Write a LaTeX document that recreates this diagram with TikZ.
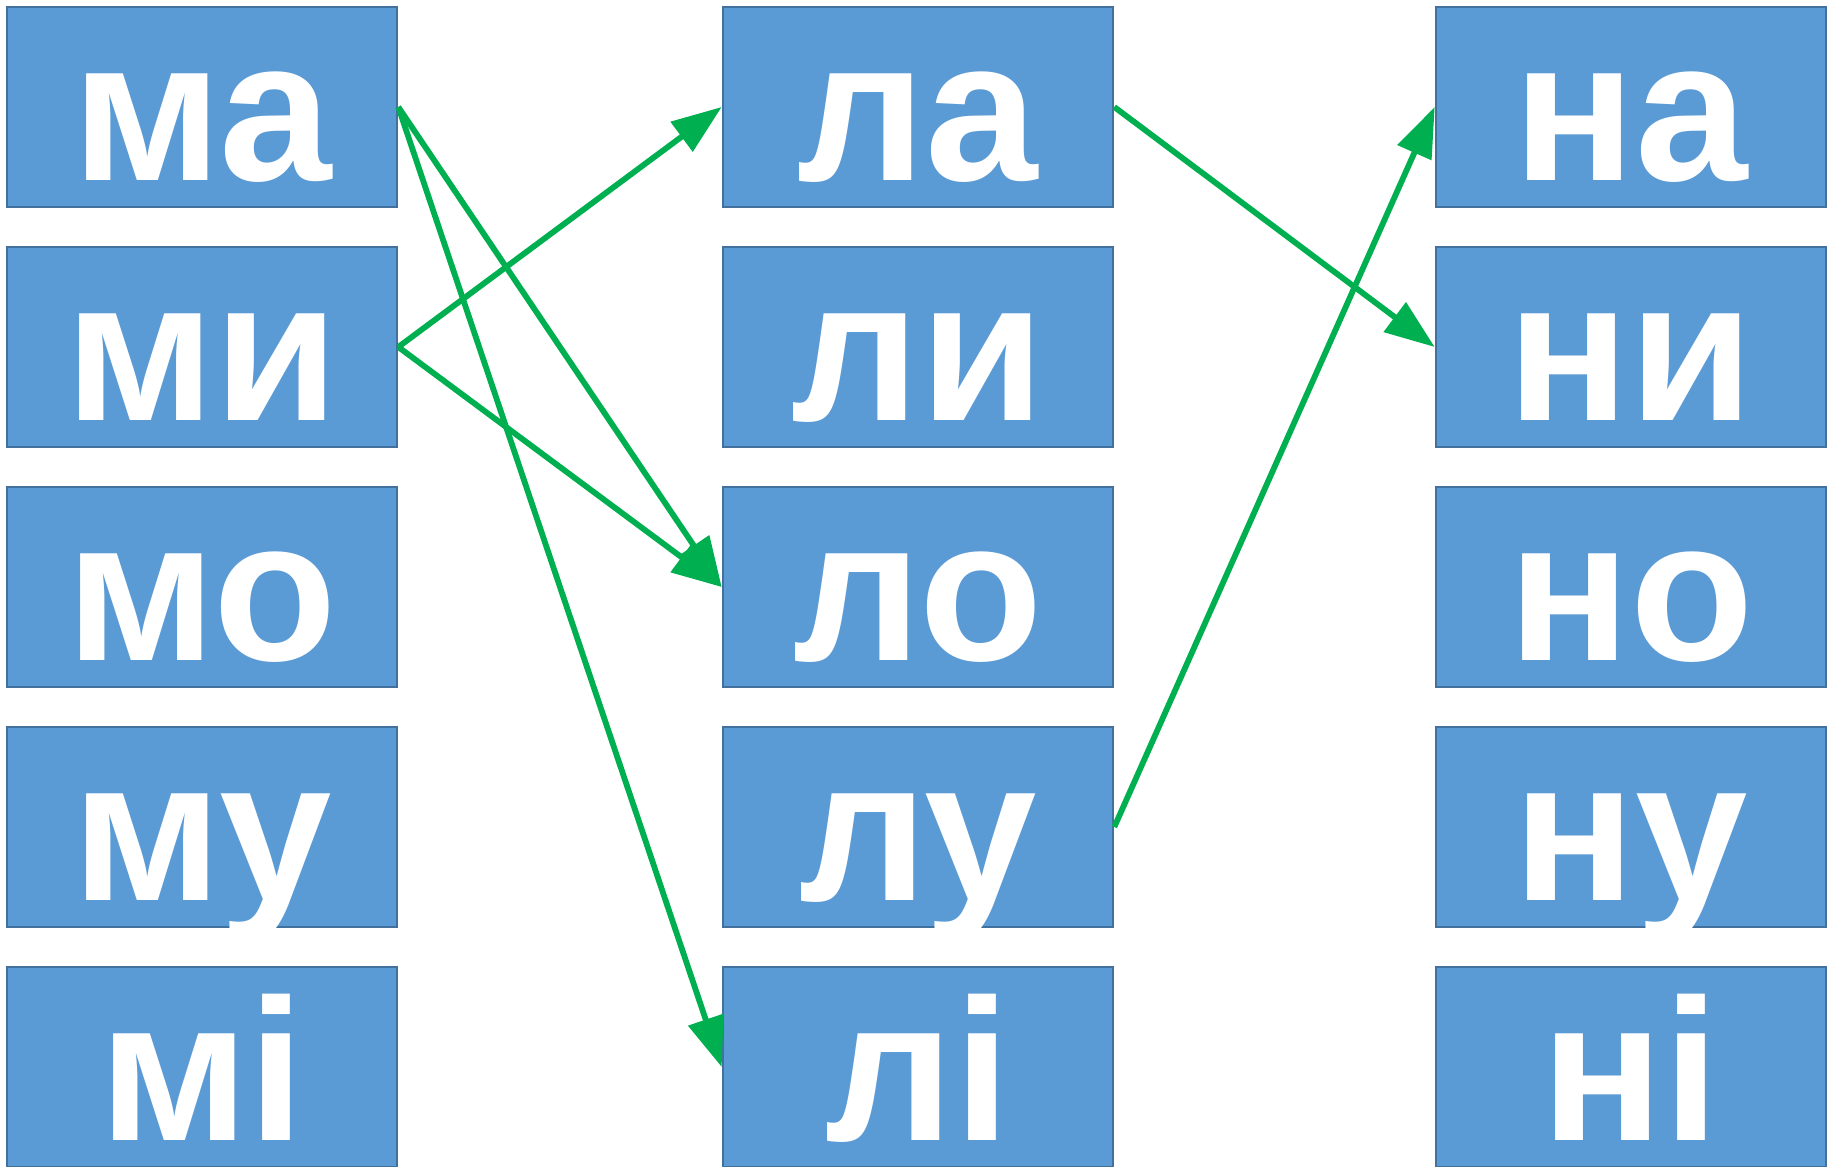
\documentclass[tikz,border=0pt]{standalone}
\usepackage{fontspec}
\setmainfont{Liberation Sans}
\usetikzlibrary{arrows.meta}
\definecolor{boxfill}{HTML}{5B9BD5}
\definecolor{boxline}{HTML}{41719C}
\definecolor{arrgreen}{HTML}{00B050}
\tikzset{
  syl/.style={draw=boxline, line width=1.3pt, fill=boxfill, minimum width=195pt, minimum height=100pt,
    inner sep=0pt, text=white, font=\fontsize{101}{120}\selectfont\bfseries,
    text height=73pt, text depth=0pt, align=center},
  arr/.style={draw=arrgreen, line width=2.9pt, -{Triangle[length=25pt,width=18pt]}},
}
\begin{document}
\begin{tikzpicture}[x=0.5pt,y=-0.5pt]
\useasboundingbox (0,0) rectangle (1832,1167);
\clip (0,0) rectangle (1832,1167);
% column 1
\node[syl] (ma) at (202,107) {ма};
\node[syl] (mi) at (202,347) {ми};
\node[syl] (mo) at (202,587) {мо};
\node[syl] (mu) at (202,827) {му};
\node[syl] (mii) at (202,1067) {мі};
% column 2
\node[syl] (la) at (918,107) {ла};
\node[syl] (li) at (918,347) {ли};
\node[syl] (lo) at (918,587) {ло};
\node[syl] (lu) at (918,827) {лу};
\node[syl] (lii) at (918,1067) {лі};
% column 3
\node[syl] (na) at (1631,107) {на};
\node[syl] (ni) at (1631,347) {ни};
\node[syl] (no) at (1631,587) {но};
\node[syl] (nu) at (1631,827) {ну};
\node[syl] (nii) at (1631,1067) {ні};
% connectors
\draw[arr] (ma.east) -- (lo.west);
\draw[arr] (ma.east) -- (lii.west);
\draw[arr] (mi.east) -- (la.west);
\draw[arr] (mi.east) -- (lo.west);
\draw[arr] (la.east) -- (ni.west);
\draw[arr] (lu.east) -- (na.west);
\end{tikzpicture}
\end{document}
